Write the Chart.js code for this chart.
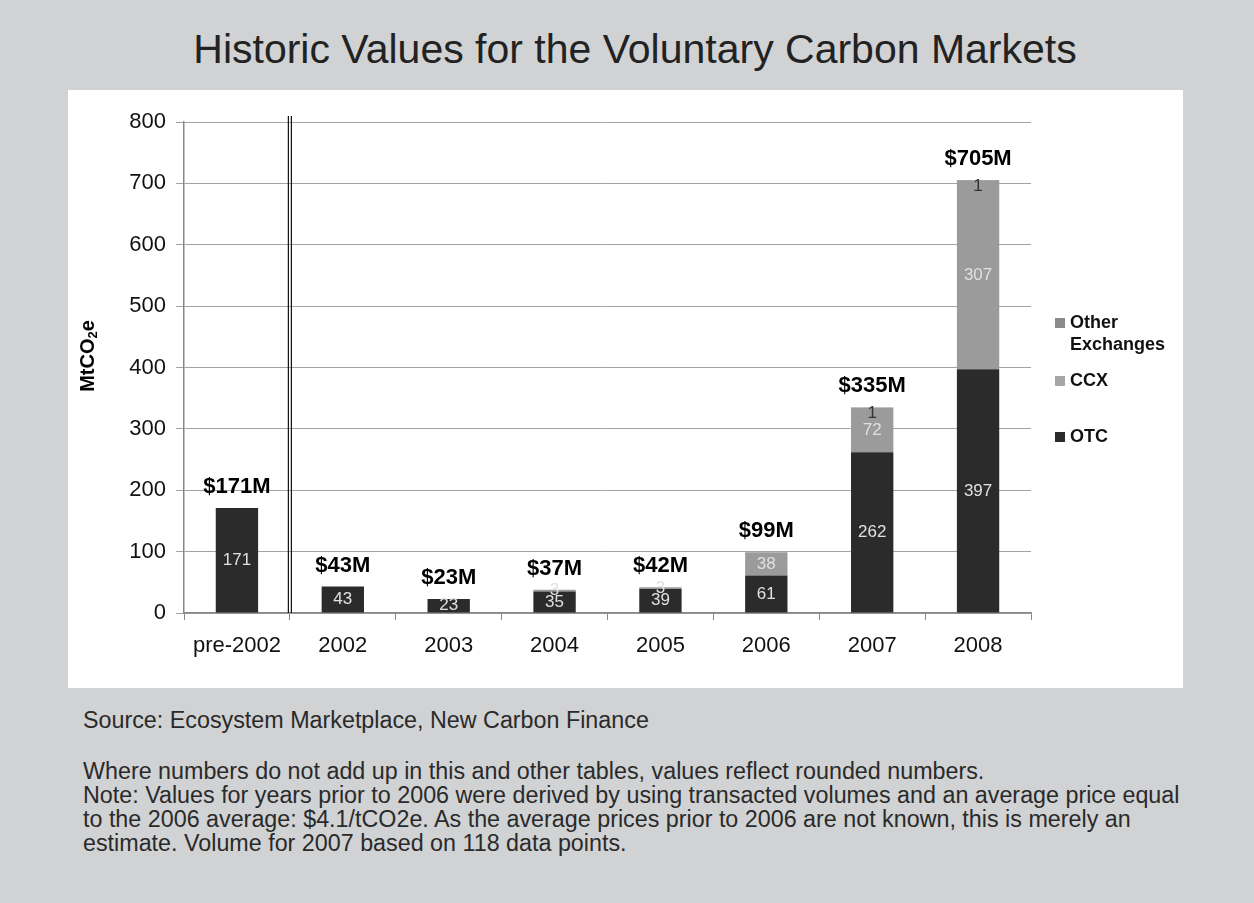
<!DOCTYPE html>
<html>
<head>
<meta charset="utf-8">
<script src="https://cdn.jsdelivr.net/npm/chart.js@4.4.0/dist/chart.umd.min.js"></script>
<style>
  body { margin: 0; background: #d1d2d4; font-family: "Liberation Sans", Arial, sans-serif; }
  #page { position: relative; width: 1254px; height: 903px; }
  #title { position: absolute; left: 0; width: 1270px; top: 26px; text-align: center; font-size: 41px; color: #222; }
  #panel { position: absolute; left: 68px; top: 90px; width: 1115px; height: 598px; background: #fff; }
  #notes { position: absolute; left: 83px; top: 708px; width: 1170px; white-space: nowrap; font-size: 23.3px; line-height: 24px; color: #2a2a2a; }
  #notes p { margin: 0 0 27px 0; }
</style>
</head>
<body>
<div id="page">
  <div id="title">Historic Values for the Voluntary Carbon Markets</div>
  <div id="panel"><canvas id="chart" width="1115" height="598"></canvas></div>
  <div id="notes">
    <p>Source: Ecosystem Marketplace, New Carbon Finance</p>
    <p>Where numbers do not add up in this and other tables, values reflect rounded numbers.<br>
    Note: Values for years prior to 2006 were derived by using transacted volumes and an average price equal<br>
    to the 2006 average: $4.1/tCO2e. As the average prices prior to 2006 are not known, this is merely an<br>
    estimate. Volume for 2007 based on 118 data points.</p>
  </div>
</div>
<script>
const categories = ['pre-2002', '2002', '2003', '2004', '2005', '2006', '2007', '2008'];
const otc = [171, 43, 23, 35, 39, 61, 262, 397];
const ccx = [0, 0, 0, 3, 3, 38, 72, 307];
const otherExchanges = [0, 0, 0, 0, 0, 0, 1, 1];
const valueLabels = ['$171M', '$43M', '$23M', '$37M', '$42M', '$99M', '$335M', '$705M'];
const yTicks = [0, 100, 200, 300, 400, 500, 600, 700, 800];

const FONT = '"Liberation Sans", Arial, sans-serif';

// segment numbers, totals, the pre-2002 divider, legend and y title
const overlay = {
  id: 'overlay',
  afterDatasetsDraw(chart) {
    const ctx = chart.ctx;
    const x = chart.scales.x, y = chart.scales.y;
    const area = chart.chartArea;
    ctx.save();

    // values inside each segment
    ctx.textAlign = 'center';
    ctx.textBaseline = 'middle';
    ctx.font = '17px ' + FONT;
    chart.data.datasets.forEach((ds, di) => {
      const meta = chart.getDatasetMeta(di);
      meta.data.forEach((bar, i) => {
        const v = ds.data[i];
        if (!v) return;
        ctx.fillStyle = di === 2 ? '#333' : '#e0e0e0';
        ctx.fillText(v, bar.x, (bar.y + bar.base) / 2 + (di === 2 ? 6 : 0));
      });
    });

    // dollar totals above each stack
    ctx.font = 'bold 22px ' + FONT;
    ctx.fillStyle = '#000';
    ctx.textBaseline = 'bottom';
    categories.forEach((c, i) => {
      const total = otc[i] + ccx[i] + otherExchanges[i];
      ctx.fillText(valueLabels[i], x.getPixelForValue(i), y.getPixelForValue(total) - 10);
    });

    // double divider after pre-2002
    const xd = (x.getPixelForValue(0) + x.getPixelForValue(1)) / 2;
    ctx.strokeStyle = '#111';
    ctx.lineWidth = 1.2;
    [-1.5, 1.5].forEach(dx => {
      ctx.beginPath();
      ctx.moveTo(xd + dx, area.top - 6);
      ctx.lineTo(xd + dx, area.bottom);
      ctx.stroke();
    });

    // legend
    const items = [
      { lines: ['Other', 'Exchanges'], color: '#8a8a8a', top: 201 },
      { lines: ['CCX'], color: '#a6a6a6', top: 259 },
      { lines: ['OTC'], color: '#2b2b2b', top: 315 }
    ];
    ctx.font = 'bold 18px ' + FONT;
    ctx.textAlign = 'left';
    ctx.textBaseline = 'middle';
    items.forEach(it => {
      const ly = area.top + it.top;
      ctx.fillStyle = it.color;
      ctx.fillRect(area.right + 24, ly - 5, 10, 10);
      ctx.fillStyle = '#111';
      it.lines.forEach((t, k) => ctx.fillText(t, area.right + 39, ly + k * 22));
    });

    // y axis title with subscript
    ctx.translate(20, 266);
    ctx.rotate(-Math.PI / 2);
    ctx.fillStyle = '#000';
    ctx.textAlign = 'left';
    ctx.textBaseline = 'middle';
    const parts = [['MtCO', 'bold 20px ', 0], ['2', 'bold 13px ', 5], ['e', 'bold 20px ', 0]];
    let w = 0;
    parts.forEach(p => { ctx.font = p[1] + FONT; w += ctx.measureText(p[0]).width; });
    let px = -w / 2;
    parts.forEach(p => {
      ctx.font = p[1] + FONT;
      ctx.fillText(p[0], px, p[2]);
      px += ctx.measureText(p[0]).width;
    });
    ctx.restore();
  }
};

new Chart(document.getElementById('chart'), {
  type: 'bar',
  data: {
    labels: categories,
    datasets: [
      { label: 'OTC', data: otc, backgroundColor: '#2b2b2b' },
      { label: 'CCX', data: ccx, backgroundColor: '#9b9b9b' },
      { label: 'Other Exchanges', data: otherExchanges, backgroundColor: '#858585' }
    ]
  },
  options: {
    responsive: false,
    animation: false,
    layout: { padding: { left: 0, top: 32, right: 152, bottom: 0 } },
    datasets: { bar: { categoryPercentage: 1, barPercentage: 0.4 } },
    plugins: { legend: { display: false }, tooltip: { enabled: false } },
    scales: {
      x: {
        stacked: true,
        afterFit(s) { s.height = 75; },
        grid: { drawOnChartArea: false, offset: true, color: '#888', tickLength: 7 },
        border: { color: '#888', width: 1.5 },
        ticks: { color: '#111', font: { family: FONT, size: 22 }, padding: 13 }
      },
      y: {
        stacked: true,
        min: 0,
        max: 800,
        afterFit(s) { s.width = 116; },
        afterBuildTicks(s) { s.ticks = yTicks.map(v => ({ value: v })); },
        grid: { color: '#a3a3a3', tickLength: 8 },
        border: { color: '#888', width: 1.5 },
        ticks: { color: '#111', font: { family: FONT, size: 22 }, padding: 10 }
      }
    }
  },
  plugins: [overlay]
});
</script>
</body>
</html>
